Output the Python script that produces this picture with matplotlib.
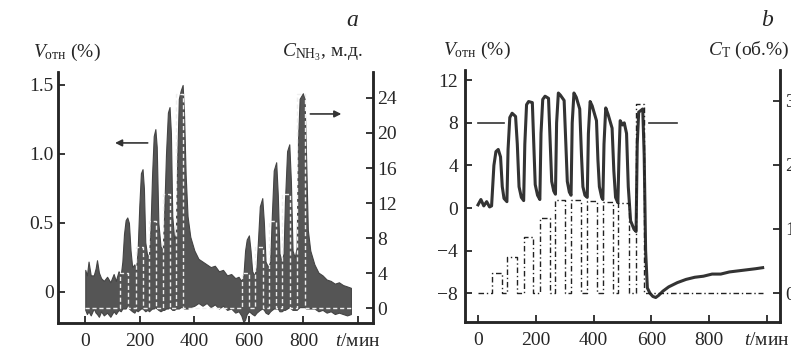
import matplotlib
matplotlib.use('Agg')
import matplotlib.pyplot as plt

plt.rcParams['font.family'] = ['Liberation Serif', 'DejaVu Serif']
plt.rcParams['mathtext.fontset'] = 'custom'
plt.rcParams['mathtext.rm'] = 'Liberation Serif'
plt.rcParams['mathtext.it'] = 'Liberation Serif:italic'
plt.rcParams['mathtext.bf'] = 'Liberation Serif:bold'

# ---------------- Panel a data ----------------
# noisy response band V_отн (%) : time, lower edge, upper edge
a_t = [0, 6, 12, 20, 31, 38, 43, 50, 58, 68, 80, 92, 104, 112, 122, 130,
       136, 142, 148, 154, 160, 166, 172, 180, 186,
       192, 198, 204, 210, 215, 220, 228, 234,
       239, 245, 251, 257, 262, 268, 276, 284,
       289, 296, 303, 309, 314, 319, 326, 332,
       337, 343, 350, 357, 362, 368, 375, 385,
       400, 415, 430, 445, 460, 475, 490, 505, 520, 535, 550, 562, 572, 580,
       586, 592, 600, 606, 612, 620, 628,
       634, 640, 649, 655, 661, 670, 678,
       684, 691, 700, 706, 712, 720, 727,
       732, 740, 748, 754, 760, 768, 775,
       780, 786, 798, 804, 810, 816, 825,
       840, 855, 870, 885, 900, 915, 930, 945, 960, 974]
a_lo = [-0.13, -0.16, -0.14, -0.17, -0.12, -0.15, -0.16, -0.18, -0.14, -0.17, -0.15, -0.18, -0.14, -0.16, -0.13, -0.14,
        -0.12, -0.12, -0.12, -0.10, -0.12, -0.13, -0.14, -0.15, -0.13,
        -0.14, -0.13, -0.12, -0.12, -0.13, -0.14, -0.13, -0.14,
        -0.13, -0.12, -0.12, -0.11, -0.12, -0.13, -0.14, -0.13,
        -0.13, -0.12, -0.12, -0.11, -0.12, -0.13, -0.13, -0.12,
        -0.12, -0.12, -0.11, -0.11, -0.12, -0.12, -0.12, -0.11,
        -0.10, -0.08, -0.10, -0.08, -0.11, -0.09, -0.12, -0.10, -0.13, -0.12, -0.15, -0.14, -0.17, -0.22,
        -0.20, -0.16, -0.14, -0.15, -0.16, -0.17, -0.15,
        -0.14, -0.13, -0.12, -0.13, -0.15, -0.16, -0.14,
        -0.13, -0.12, -0.12, -0.12, -0.14, -0.14, -0.13,
        -0.13, -0.12, -0.11, -0.12, -0.13, -0.13, -0.13,
        -0.12, -0.11, -0.11, -0.11, -0.12, -0.12, -0.12,
        -0.12, -0.14, -0.13, -0.15, -0.14, -0.16, -0.15, -0.16, -0.17, -0.16]
a_hi = [0.16, 0.12, 0.22, 0.12, 0.12, 0.17, 0.23, 0.14, 0.10, 0.08, 0.11, 0.07, 0.13, 0.08, 0.15, 0.12,
        0.22, 0.42, 0.52, 0.54, 0.50, 0.30, 0.18, 0.20, 0.16,
        0.30, 0.62, 0.86, 0.89, 0.75, 0.36, 0.25, 0.28,
        0.45, 0.85, 1.13, 1.18, 1.05, 0.50, 0.33, 0.30,
        0.55, 1.00, 1.30, 1.34, 1.15, 0.55, 0.38, 0.42,
        0.95, 1.40, 1.46, 1.50, 1.30, 0.85, 0.55, 0.40,
        0.30, 0.24, 0.22, 0.20, 0.18, 0.19, 0.15, 0.16, 0.12, 0.13, 0.10, 0.11, 0.08, 0.12,
        0.30, 0.38, 0.41, 0.30, 0.15, 0.12, 0.18,
        0.40, 0.62, 0.68, 0.50, 0.22, 0.18, 0.22,
        0.55, 0.88, 0.94, 0.70, 0.28, 0.22, 0.28,
        0.65, 1.02, 1.07, 0.80, 0.30, 0.25, 0.32,
        1.10, 1.40, 1.44, 1.40, 0.95, 0.45, 0.30,
        0.20, 0.14, 0.12, 0.09, 0.08, 0.06, 0.07, 0.05, 0.04, 0.03]
# NH3 concentration pulses (м.д.)
a_pulse_start = [129, 185, 233, 284, 333, 575, 624, 675, 723, 778]
a_pulse_end = [155, 211, 259, 310, 360, 601, 650, 701, 749, 806]
a_pulse_conc = [4, 7, 10, 13, 24.5, 4, 7, 10, 13, 24.5]
a_c_end = 975

# ---------------- Panel b data ----------------
b_t = [0, 10, 20, 30, 40, 47, 55, 62, 70, 78, 84, 90, 100,
       104, 110, 118, 130, 136, 142, 150, 158,
       162, 168, 175, 188, 193, 198, 206, 214,
       218, 224, 232, 244, 250, 255, 262, 268,
       272, 278, 285, 298, 304, 309, 316, 322,
       326, 332, 340, 352, 358, 363, 370, 378,
       382, 388, 395, 410, 415, 420, 428, 432,
       436, 442, 450, 464, 470, 476, 484,
       488, 492, 500, 506, 514, 520, 528, 540, 547,
       551, 556, 570, 575, 580, 586, 595, 605, 615, 625, 640, 660, 690,
       720, 750, 780, 810, 840, 870, 900, 930, 960, 985]
b_v = [0.3, 0.8, 0.2, 0.6, 0.1, 0.2, 4.0, 5.3, 5.5, 4.8, 2.0, 0.9, 0.6,
       5.5, 8.5, 8.9, 8.6, 6.0, 2.0, 1.0, 0.7,
       6.0, 9.7, 10.0, 9.9, 6.0, 2.2, 1.2, 0.8,
       7.0, 10.2, 10.5, 10.3, 6.0, 2.5, 1.6, 1.3,
       8.0, 10.8, 10.6, 10.1, 6.0, 2.5, 1.5, 1.2,
       8.0, 10.8, 10.4, 9.3, 5.0, 2.0, 1.2, 1.0,
       7.0, 10.0, 9.6, 8.2, 4.5, 2.0, 1.0, 0.8,
       6.0, 9.4, 8.8, 7.5, 3.5, 1.0, 0.5,
       5.0, 8.2, 7.8, 8.0, 7.0, 2.0, -1.2, -2.0, -2.2,
       6.0, 9.0, 9.3, 5.0, -4.0, -7.5, -8.0, -8.3, -8.4, -8.2, -7.8, -7.4, -7.0,
       -6.7, -6.5, -6.4, -6.2, -6.2, -6.0, -5.9, -5.8, -5.7, -5.6]
# toluene concentration pulses (об.%)
b_pulse_start = [47, 102, 158, 214, 268, 322, 378, 432, 486, 548]
b_pulse_end = [82, 136, 192, 248, 302, 356, 412, 467, 522, 574]
b_pulse_conc = [0.31, 0.56, 0.88, 1.17, 1.45, 1.45, 1.43, 1.42, 1.40, 2.95]
b_c_end = 985

x_ticks = [0, 200, 400, 600, 800, 1000]
x_labels = ['0', '200', '400', '600', '800', '$t$/мин']


def steps(starts, ends, concs, t_end):
    xs, ys = [0], [0]
    for s, e, c in zip(starts, ends, concs):
        xs += [s, s, e, e]
        ys += [0, c, c, 0]
    xs.append(t_end)
    ys.append(0)
    return xs, ys


W, H = 791, 355
fig = plt.figure(figsize=(W / 100, H / 100), dpi=100)
fig.patch.set_facecolor('white')
ink = '#262626'
fs = 14


def style(ax, side):
    for s in ['top']:
        ax.spines[s].set_visible(False)
    for s in ['left', 'right', 'bottom']:
        ax.spines[s].set_linewidth(1.8)
        ax.spines[s].set_color(ink)
    ax.tick_params(axis='both', direction='in', length=5, width=1.3, colors=ink,
                   labelsize=fs)


# ---------- panel a ----------
axA = fig.add_axes([58 / W, (H - 323) / H, 315 / W, 251 / H])
axA.set_xlim(-100, 1055)
axA.set_ylim(-0.225, 1.594)
axA.fill_between(a_t, a_lo, a_hi, color='#555555', edgecolor='#444444', lw=0.8, zorder=2)
style(axA, 'left')
axA.set_yticks([0, 0.5, 1.0, 1.5])
axA.set_yticklabels(['0', '0.5', '1.0', '1.5'])
axA.set_xticks(x_ticks)
axA.set_xticklabels(x_labels)
axA.tick_params(axis='y', pad=3)
axA.tick_params(axis='x', pad=7)
axA.annotate('', xy=(99, 1.08), xytext=(239, 1.08),
             arrowprops=dict(arrowstyle='-|>', lw=1.2, color='#333333', mutation_scale=10))
axA.annotate('', xy=(949, 1.29), xytext=(815, 1.29),
             arrowprops=dict(arrowstyle='-|>', lw=1.2, color='#333333', mutation_scale=10))

axA2 = axA.twinx()
axA2.set_ylim(-1.71, 26.97)
xs, ys = steps(a_pulse_start, a_pulse_end, a_pulse_conc, a_c_end)
axA2.plot(xs, ys, color='#eeeeee', lw=1.0, dashes=(3, 2), zorder=3)
style(axA2, 'right')
axA2.set_yticks([0, 4, 8, 12, 16, 20, 24])
axA2.tick_params(axis='y', pad=3)

# ---------- panel b ----------
axB = fig.add_axes([465 / W, (H - 322) / H, 315 / W, 252 / H])
axB.set_xlim(-45, 1045)
axB.set_ylim(-10.7, 12.96)
axB.plot(b_t, b_v, color='#333333', lw=2.2, solid_joinstyle='round', zorder=3)
style(axB, 'left')
axB.set_yticks([-8, -4, 0, 4, 8, 12])
axB.set_xticks(x_ticks)
axB.set_xticklabels(x_labels)
axB.tick_params(axis='y', pad=5)
axB.tick_params(axis='x', pad=7)
axB.plot([0, 90], [8, 8], color='#333333', lw=1.2)
axB.plot([590, 690], [8, 8], color='#333333', lw=1.2)

axB2 = axB.twinx()
axB2.set_ylim(-0.453, 3.484)
xs, ys = steps(b_pulse_start, b_pulse_end, b_pulse_conc, b_c_end)
axB2.plot(xs, ys, color='#222222', lw=1.0, linestyle=(0, (4, 2, 1, 2)), zorder=2)
style(axB2, 'right')
axB2.set_yticks([0, 1, 2, 3])
axB2.tick_params(axis='y', pad=4)

# ---------- labels ----------
fig.text(33 / W, 1 - 52 / H, r'$V_{\mathrm{отн}}$ (%)', fontsize=fs, ha='left', va='center', color=ink)
fig.text(363 / W, 1 - 52 / H, r'$C_{\mathrm{NH}_3}$, м.д.', fontsize=fs, ha='right', va='center', color=ink)
fig.text(443 / W, 1 - 50 / H, r'$V_{\mathrm{отн}}$ (%)', fontsize=fs, ha='left', va='center', color=ink)
fig.text(790 / W, 1 - 50 / H, r'$C_{\mathrm{T}}$ (об.%)', fontsize=fs, ha='right', va='center', color=ink)
fig.text(352 / W, 1 - 20 / H, 'a', fontsize=17, style='italic', ha='center', va='center', color=ink)
fig.text(767 / W, 1 - 20 / H, 'b', fontsize=17, style='italic', ha='center', va='center', color=ink)

fig.savefig('out.png', dpi=100, facecolor='white')
